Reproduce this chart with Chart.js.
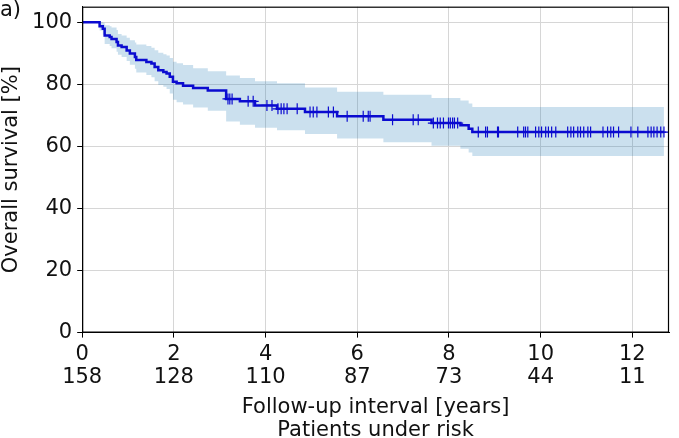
<!DOCTYPE html>
<html>
<head>
<meta charset="utf-8">
<script src="https://cdn.jsdelivr.net/npm/chart.js@4"></script>
<style>
    html, body { margin: 0; padding: 0; background: #fff; }
    #wrap { position: relative; width: 679px; height: 438px; }
    #panel { position: absolute; left: 0px; top: -3px; font: 21px 'DejaVu Sans'; color: #111; }
</style>
</head>
<body>
<div id="wrap">
    <canvas id="kmChart" width="679" height="438"></canvas>
    <div id="panel">a)</div>
</div>
<script>
// Kaplan-Meier steps (years, % survival)
const stepTimes = [0, 0.38, 0.45, 0.49, 0.60, 0.64, 0.75, 0.78, 0.86, 0.97, 1.04, 1.15, 1.18, 1.40,
    1.51, 1.58, 1.66, 1.77, 1.84, 1.91, 1.98, 2.06, 2.20, 2.42, 2.74, 3.14, 3.44, 3.77, 4.25, 4.86,
    5.56, 6.57, 7.62, 8.25, 8.43, 8.51, 12.69];
const survival = [100, 98.7, 97.9, 95.7, 95.2, 94.6, 93.6, 92.5, 92.0, 90.9, 89.9, 88.8, 87.8, 87.2,
    86.7, 85.6, 84.5, 84.0, 83.5, 82.4, 80.8, 80.3, 79.5, 78.8, 78.0, 75.3, 74.5, 73.2, 72.1, 71.1,
    69.7, 68.6, 67.5, 66.8, 65.7, 64.6, 64.6];
const ciUpper = [100, 100, 99.8, 99.0, 98.7, 98.3, 97.5, 96.2, 95.7, 95.0, 94.2, 93.5, 92.8, 92.3,
    91.8, 91.0, 90.2, 89.7, 89.3, 88.5, 87.3, 86.8, 86.2, 85.2, 84.2, 82.8, 82.0, 81.0, 80.3, 79.0,
    77.6, 76.6, 75.6, 74.8, 73.8, 72.7, 72.7];
const ciLower = [100, 97.3, 96.0, 93.0, 92.3, 91.6, 90.5, 89.5, 88.8, 87.5, 86.3, 85.0, 83.8, 83.0,
    82.3, 81.0, 79.8, 79.2, 78.5, 77.0, 75.0, 74.2, 73.5, 72.5, 71.5, 68.0, 67.0, 66.0, 65.2, 64.0,
    62.5, 61.3, 60.2, 59.2, 58.0, 56.9, 56.9];

// censored observations (years)
const censorTimes = [3.18, 3.22, 3.27, 3.62, 3.73, 4.03, 4.14, 4.27, 4.34, 4.40, 4.47, 4.69, 4.97,
    5.04, 5.12, 5.37, 5.48, 5.78, 6.13, 6.24, 6.28, 6.77, 7.22, 7.33, 7.66, 7.75, 7.81, 7.88, 7.99,
    8.03, 8.08, 8.12, 8.19, 8.64, 8.80, 8.84, 9.06, 9.08, 9.50, 9.63, 9.67, 9.72, 9.89, 9.96, 10.02,
    10.11, 10.17, 10.24, 10.33, 10.59, 10.66, 10.72, 10.81, 10.87, 10.94, 11.03, 11.09, 11.36, 11.46,
    11.53, 11.59, 11.70, 11.97, 12.12, 12.34, 12.41, 12.47, 12.54, 12.62, 12.69];

const xTicks = [0, 2, 4, 6, 8, 10, 12];
const atRisk = ['158', '128', '110', '87', '73', '44', '11'];
const yTicks = [0, 20, 40, 60, 80, 100];

function survivalAt(t) {
    let s = survival[0];
    for (let i = 0; i < stepTimes.length; i++) {
        if (stepTimes[i] <= t) s = survival[i];
    }
    return s;
}

const toPts = vals => stepTimes.map((t, i) => ({ x: t, y: vals[i] }));

const frame = {
    id: 'frame',
    afterDraw(chart) {
        const { ctx, chartArea: a } = chart;
        ctx.save();
        ctx.strokeStyle = '#000';
        ctx.lineWidth = 1.2;
        ctx.strokeRect(a.left + 0.5, a.top + 0.5, a.right - a.left - 1, a.bottom - a.top - 1);
        ctx.restore();
    }
};

const font = { family: 'DejaVu Sans', size: 21, lineHeight: 1.1 };

new Chart(document.getElementById('kmChart'), {
    type: 'line',
    data: {
        datasets: [
            {
                label: 'CI upper',
                data: toPts(ciUpper),
                stepped: true,
                borderWidth: 0,
                pointRadius: 0,
                backgroundColor: 'rgba(31,119,180,0.23)',
                fill: '+1',
                order: 3
            },
            {
                label: 'CI lower',
                data: toPts(ciLower),
                stepped: true,
                borderWidth: 0,
                pointRadius: 0,
                fill: false,
                order: 2
            },
            {
                label: 'Overall survival',
                data: toPts(survival),
                stepped: true,
                borderColor: '#0b0bd0',
                borderWidth: 2.5,
                pointRadius: 0,
                fill: false,
                order: 1
            },
            {
                label: 'Censored',
                data: censorTimes.map(t => ({ x: t, y: survivalAt(t) })),
                showLine: false,
                pointStyle: 'cross',
                pointRadius: 5.5,
                borderWidth: 1.2,
                borderColor: '#0b0bd0',
                order: 0
            }
        ]
    },
    options: {
        responsive: false,
        animation: false,
        layout: { padding: { top: 5, right: 10, left: 0, bottom: -4 } },
        plugins: {
            legend: { display: false },
            tooltip: { enabled: false }
        },
        scales: {
            x: {
                type: 'linear',
                min: 0,
                max: 12.8,
                afterBuildTicks: s => { s.ticks = xTicks.map(v => ({ value: v })); },
                ticks: {
                    font,
                    color: '#111',
                    maxRotation: 0,
                    padding: 5,
                    callback: v => [String(v), atRisk[xTicks.indexOf(v)]]
                },
                grid: { color: '#d6d6d6', tickColor: '#000', tickLength: 5 },
                border: { color: '#000' },
                title: {
                    display: true,
                    text: ['Follow-up interval [years]', 'Patients under risk'],
                    font,
                    color: '#111',
                    padding: { top: 2, bottom: 0 }
                }
            },
            y: {
                min: 0,
                max: 105,
                afterBuildTicks: s => { s.ticks = yTicks.map(v => ({ value: v })); },
                afterFit: s => { s.paddingTop = 0; s.paddingBottom = 0; },
                ticks: { font, color: '#111', padding: 5 },
                grid: { color: '#d6d6d6', tickColor: '#000', tickLength: 5 },
                border: { color: '#000' },
                title: {
                    display: true,
                    text: 'Overall survival [%]',
                    font,
                    color: '#111',
                    padding: { top: 0, bottom: 4 }
                }
            }
        }
    },
    plugins: [frame]
});
</script>
</body>
</html>
